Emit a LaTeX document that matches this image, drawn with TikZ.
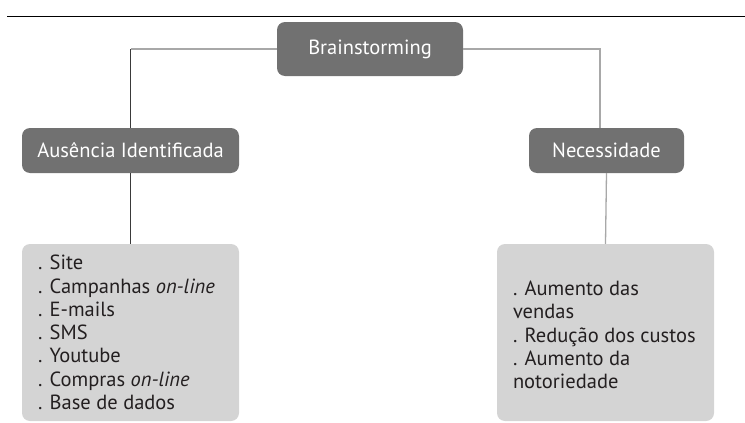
\documentclass[tikz,border=0pt]{standalone}
\usepackage{fontspec}
\setmainfont{PT Sans}
\definecolor{boxdark}{HTML}{717171}
\definecolor{boxlight}{HTML}{D4D4D4}
\definecolor{textdark}{HTML}{231F20}
\definecolor{linegray}{HTML}{A8A8A8}
\definecolor{linedark}{HTML}{3A3A3A}
\begin{document}
\begin{tikzpicture}[x=1pt,y=-1pt,
  darkbox/.style={rectangle, rounded corners=8pt, fill=boxdark, text=white,
    inner sep=0pt, font=\fontsize{20.5}{24}\selectfont},
  listbox/.style={rectangle, rounded corners=8pt, fill=boxlight, inner sep=0pt,
    minimum width=217pt, minimum height=177pt},
  listtext/.style={align=left, anchor=west, inner sep=0pt, text=textdark,
    font=\fontsize{20.5}{23.3}\selectfont},
  grayline/.style={draw=linegray, line width=1.3pt},
  darkline/.style={draw=linedark, line width=0.9pt}]
\useasboundingbox (0,0) rectangle (745,423);

% rule across the top
\coordinate (ruleL) at (7,16.5);
\coordinate (ruleR) at (745,16.5);
\draw[line width=1.3pt] (ruleL) -- (ruleR);

% headings
\node[darkbox, minimum width=186pt, minimum height=54pt] (brain) at (370,49) {Brainstorming};
\node[darkbox, minimum width=217pt, minimum height=45pt] (aus) at (130.5,150.5) {Ausência Identificada};
\node[darkbox, minimum width=155pt, minimum height=45pt] (nec) at (606.5,150.5) {Necessidade};

% lists
\node[listbox] (lbox) at (130.5,332.5) {};
\node[listbox] (rbox) at (605.5,332.5) {};
\node[listtext] (ltext) at ([xshift=16pt]lbox.west)
  {. Site\\. Campanhas \textit{on-line}\\. E-mails\\. SMS\\. Youtube\\. Compras \textit{on-line}\\. Base de dados};
\node[listtext] (rtext) at ([xshift=16pt,yshift=-2.5pt]rbox.west)
  {. Aumento das\\vendas\\. Redução dos custos\\. Aumento da\\notoriedade};

% connectors
\coordinate (lc) at (aus.north |- brain.west);
\draw[grayline] (brain.west) -- (lc);
\draw[darkline] (lc) -- (aus.north);
\coordinate (necin) at ([xshift=-6.5pt]nec.north);
\coordinate (rc) at (necin |- brain.east);
\draw[grayline] (brain.east) -- (rc) -- (necin);
\draw[darkline] (aus.south) -- (lbox.north);
\draw[grayline] (nec.south) -- (rbox.north);
\end{tikzpicture}
\end{document}
